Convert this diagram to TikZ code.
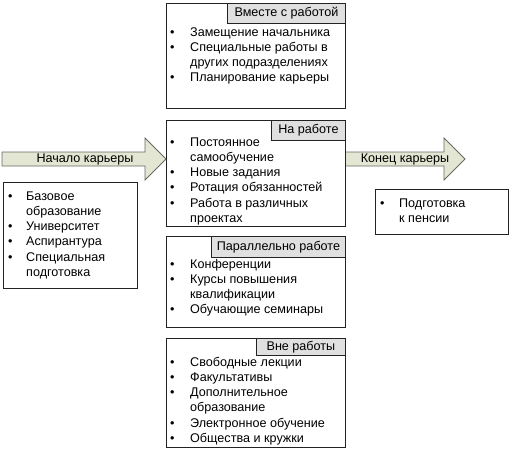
\documentclass[tikz,border=0pt]{standalone}
\usepackage{fontspec}
\setmainfont{Liberation Sans}
\usepackage{array}
\definecolor{arrowfill}{RGB}{226,230,210}
\definecolor{arrowline}{RGB}{105,105,100}
\definecolor{tabfill}{RGB}{224,224,224}
\definecolor{boxline}{RGB}{35,35,35}
\newcommand\bl{\textbullet}
\begin{document}
\begin{tikzpicture}[x=1pt,y=-1pt,
  panel/.style={draw=boxline,line width=0.9pt,fill=white,anchor=north west,inner sep=0pt,minimum width=#1},
  tabbox/.style={draw=boxline,line width=0.9pt,fill=tabfill,anchor=north east,inner sep=0pt,font=\fontsize{12.6}{14}\selectfont},
  content/.style={anchor=base west,inner sep=0pt,align=left,font=\fontsize{12.6}{15.3}\selectfont},
  arrowshape/.style={draw=arrowline,line width=0.8pt,fill=arrowfill},
  arrowtext/.style={inner sep=0pt,font=\fontsize{12.6}{14}\selectfont}]
\useasboundingbox (0,0) rectangle (512,450);
% arrows
\draw[arrowshape] (2,152) -- (145,152) -- (145,138) -- (166,159) -- (145,180) -- (145,166) -- (2,166) -- cycle;
\draw[arrowshape] (345,152) -- (444,152) -- (444,138) -- (465,159) -- (444,180) -- (444,166) -- (345,166) -- cycle;
\node[arrowtext] (start) at (85,159) {Начало карьеры};
\node[arrowtext] (end) at (405,159) {Конец карьеры};
% boxes
\node[panel=179pt,minimum height=105pt] (b1) at (166,3) {};
\node[panel=179pt,minimum height=106pt] (b2) at (166,120) {};
\node[panel=179pt,minimum height=91pt] (b3) at (166,236) {};
\node[panel=179pt,minimum height=109pt] (b4) at (166,338) {};
\node[panel=134pt,minimum height=106pt] (bl) at (3,182) {};
\node[panel=133pt,minimum height=45pt] (br) at (375,189) {};
% tabs
\node[tabbox,minimum width=118pt,minimum height=20pt] (t1) at (b1.north east) {Вместе с работой};
\node[tabbox,minimum width=74pt,minimum height=20pt] (t2) at (b2.north east) {На работе};
\node[tabbox,minimum width=134pt,minimum height=21pt] (t3) at (b3.north east) {Параллельно работе};
\node[tabbox,minimum width=89pt,minimum height=17pt] (t4) at (b4.north east) {Вне работы};
% contents
\node[content] (c1) at (170,36) {\begin{tabular}[t]{@{}p{17pt}@{\hspace{3pt}}l@{}}
\bl & Замещение начальника\\
\bl & Специальные работы в\\
 & других подразделениях\\
\bl & Планирование карьеры
\end{tabular}};
\node[content] (c2) at (170,146) {\begin{tabular}[t]{@{}p{17pt}@{\hspace{3pt}}l@{}}
\bl & Постоянное\\
 & самообучение\\
\bl & Новые задания\\
\bl & Ротация обязанностей\\
\bl & Работа в различных\\
 & проектах
\end{tabular}};
\node[content] (c3) at (170,268) {\begin{tabular}[t]{@{}p{17pt}@{\hspace{3pt}}l@{}}
\bl & Конференции\\
\bl & Курсы повышения\\
 & квалификации\\
\bl & Обучающие семинары
\end{tabular}};
\node[content] (c4) at (170,366) {\begin{tabular}[t]{@{}p{17pt}@{\hspace{3pt}}l@{}}
\bl & Свободные лекции\\
\bl & Факультативы\\
\bl & Дополнительное\\
 & образование\\
\bl & Электронное обучение\\
\bl & Общества и кружки
\end{tabular}};
\node[content] (cl) at (8,200) {\begin{tabular}[t]{@{}p{15pt}@{\hspace{3pt}}l@{}}
\bl & Базовое\\
 & образование\\
\bl & Университет\\
\bl & Аспирантура\\
\bl & Специальная\\
 & подготовка
\end{tabular}};
\node[content] (cr) at (380,207) {\begin{tabular}[t]{@{}p{16pt}@{\hspace{3pt}}l@{}}
\bl & Подготовка\\
 & к пенсии
\end{tabular}};
\end{tikzpicture}
\end{document}
